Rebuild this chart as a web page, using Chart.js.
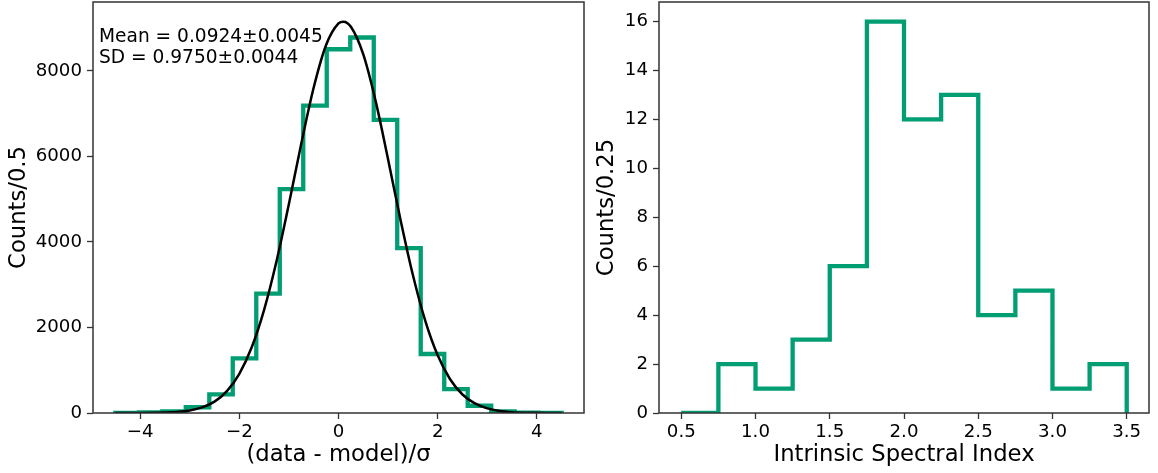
<!DOCTYPE html>
<html>
<head>
<meta charset="utf-8">
<script src="https://cdn.jsdelivr.net/npm/chart.js@4.4.0/dist/chart.umd.min.js"></script>
<style>
  html, body { margin: 0; padding: 0; background: #fff; width: 1158px; height: 473px; overflow: hidden; }
  canvas { position: absolute; }
  #left { left: 0; top: -20px; }
  #right { left: 585px; top: -20px; }
</style>
</head>
<body>
<canvas id="left" width="620" height="493"></canvas>
<canvas id="right" width="573" height="493"></canvas>
<script>
// left panel: normalised residuals, 19 bins between -4.5 and 4.5
const residEdges = [-4.5, -4.026, -3.553, -3.079, -2.605, -2.132, -1.658, -1.184, -0.711, -0.237,
                    0.237, 0.711, 1.184, 1.658, 2.132, 2.605, 3.079, 3.553, 4.026, 4.5];
const residCounts = [3, 15, 35, 135, 435, 1275, 2790, 5235, 7185, 8505,
                     8780, 6855, 3855, 1380, 560, 170, 35, 8, 2];

// fitted gaussian
const curveX = [-4.5, -4.25, -4, -3.75, -3.5, -3.25, -3, -2.75, -2.5, -2.25, -2, -1.75, -1.5, -1.25,
                -1, -0.75, -0.5, -0.25, 0, 0.1, 0.25, 0.5, 0.75, 1, 1.25, 1.5, 1.75, 2, 2.25,
                2.5, 2.75, 3, 3.25, 3.5, 3.75, 4, 4.25, 4.5];
const curveY = [0, 0.5, 1, 4, 10, 26, 60, 131, 267, 511, 916, 1536, 2413, 3548,
                4888, 6302, 7610, 8604, 9109, 9150, 9031, 8383, 7286, 5929, 4520, 3226, 2154, 1348, 790,
                433, 223, 107, 48, 20, 8, 3, 1, 0];

const residXTicks = [-4, -2, 0, 2, 4];
const residXLabels = ['\u22124', '\u22122', '0', '2', '4'];
const residYTicks = [0, 2000, 4000, 6000, 8000];

const fitText = ['Mean = 0.0924\u00b10.0045', 'SD = 0.9750\u00b10.0044'];

// right panel: intrinsic spectral index
const indexEdges = [0.5, 0.75, 1.0, 1.25, 1.5, 1.75, 2.0, 2.25, 2.5, 2.75, 3.0, 3.25, 3.5];
const indexCounts = [0, 2, 1, 3, 6, 16, 12, 13, 4, 5, 1, 2];

const indexXTicks = [0.5, 1.0, 1.5, 2.0, 2.5, 3.0, 3.5];
const indexXLabels = ['0.5', '1.0', '1.5', '2.0', '2.5', '3.0', '3.5'];
const indexYTicks = [0, 2, 4, 6, 8, 10, 12, 14, 16];

const green = '#029e73';
const font = 'DejaVu Sans';

// outline like matplotlib histtype='step'
const stepPoints = (edges, counts) => {
  const pts = [{x: edges[0], y: 0}];
  counts.forEach((c, i) => pts.push({x: edges[i], y: c}));
  pts.push({x: edges[edges.length - 1], y: counts[counts.length - 1]});
  pts.push({x: edges[edges.length - 1], y: 0});
  return pts;
};

const framePlugin = {
  id: 'frame',
  afterDatasetsDraw(chart) {
    const {ctx, chartArea: a} = chart;
    ctx.save();
    ctx.strokeStyle = '#333';
    ctx.lineWidth = 1.5;
    ctx.strokeRect(a.left, a.top, a.right - a.left, a.bottom - a.top);
    ctx.restore();
  }
};

const fitTextPlugin = {
  id: 'fitText',
  afterDraw(chart) {
    const {ctx, chartArea: a} = chart;
    ctx.save();
    ctx.fillStyle = '#000';
    ctx.font = `18.6px "${font}"`;
    ctx.textBaseline = 'alphabetic';
    ctx.fillText(fitText[0], a.left + 6, a.top + 40);
    ctx.fillText(fitText[1], a.left + 6, a.top + 61);
    ctx.restore();
  }
};

const makeScales = (opt) => ({
  x: {
    type: 'linear',
    min: opt.xMin,
    max: opt.xMax,
    afterBuildTicks: s => { s.ticks = opt.xTicks.map(v => ({value: v})); },
    afterFit: s => { s.height = 60; },
    ticks: {
      autoSkip: false, maxRotation: 0, padding: 2, color: '#000',
      font: {family: font, size: 18.2},
      callback: (v, i) => opt.xLabels[i]
    },
    grid: {drawOnChartArea: false, drawTicks: true, tickLength: 6, tickColor: '#333', tickWidth: 1.3},
    border: {display: false},
    title: {display: true, text: opt.xTitle, color: '#000', font: {family: font, size: 22.7}, padding: {top: 0, bottom: 4}}
  },
  y: {
    type: 'linear',
    min: 0,
    max: opt.yMax,
    afterBuildTicks: s => { s.ticks = opt.yTicks.map(v => ({value: v})); },
    afterFit: s => { s.width = opt.yWidth; },
    ticks: {
      padding: 5, color: '#000',
      font: {family: font, size: 18.2},
      callback: v => String(v)
    },
    grid: {drawOnChartArea: false, drawTicks: true, tickLength: 6, tickColor: '#333', tickWidth: 1.3},
    border: {display: false},
    title: {display: true, text: opt.yTitle, color: '#000', font: {family: font, size: 22.7}, padding: {top: opt.yTitlePad, bottom: 0}}
  }
});

const baseOptions = (scales, padRight) => ({
  responsive: false,
  animation: false,
  devicePixelRatio: 1,
  layout: {padding: {top: 22, right: padRight, bottom: 0, left: 0}},
  plugins: {legend: {display: false}, tooltip: {enabled: false}},
  elements: {point: {radius: 0}},
  scales
});

new Chart(document.getElementById('left'), {
  type: 'line',
  data: {
    datasets: [
      {
        data: curveX.map((x, i) => ({x, y: curveY[i]})),
        borderColor: '#000',
        borderWidth: 2.5,
        cubicInterpolationMode: 'monotone',
        fill: false,
        clip: 0,
        order: 0
      },
      {
        data: stepPoints(residEdges, residCounts),
        borderColor: green,
        borderWidth: 4.3,
        stepped: 'before',
        borderJoinStyle: 'miter',
        fill: false,
        clip: 0,
        order: 1
      }
    ]
  },
  options: baseOptions(makeScales({
    xMin: -4.95, xMax: 4.95, xTicks: residXTicks, xLabels: residXLabels,
    xTitle: '(data - model)/\u03c3',
    yMax: 9610, yTicks: residYTicks, yWidth: 93, yTitle: 'Counts/0.5', yTitlePad: 5
  }), 36),
  plugins: [framePlugin, fitTextPlugin]
});

new Chart(document.getElementById('right'), {
  type: 'line',
  data: {
    datasets: [
      {
        data: stepPoints(indexEdges, indexCounts),
        borderColor: green,
        borderWidth: 4.3,
        stepped: 'before',
        borderJoinStyle: 'miter',
        fill: false,
        clip: 0
      }
    ]
  },
  options: baseOptions(makeScales({
    xMin: 0.35, xMax: 3.65, xTicks: indexXTicks, xLabels: indexXLabels,
    xTitle: 'Intrinsic Spectral Index',
    yMax: 16.8, yTicks: indexYTicks, yWidth: 74, yTitle: 'Counts/0.25', yTitlePad: 8
  }), 9),
  plugins: [framePlugin]
});
</script>
</body>
</html>
